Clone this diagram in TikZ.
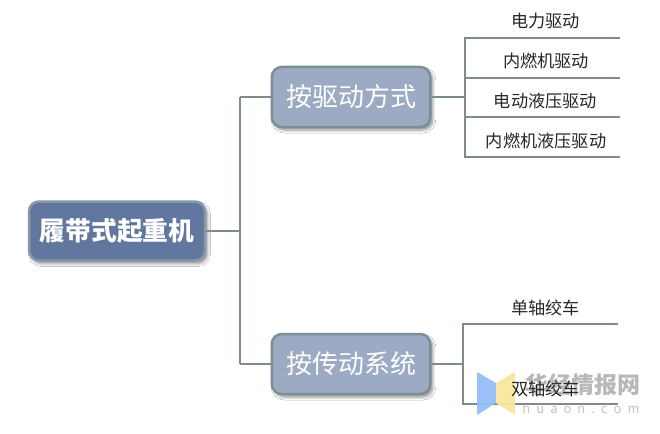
\documentclass[tikz,border=0pt]{standalone}
\usepackage{fontspec}
\setmainfont{Noto Sans CJK SC}
\newfontfamily\cjk{Noto Sans CJK SC}
\usetikzlibrary{shadows.blur}
\definecolor{rootfill}{HTML}{62779F}
\definecolor{rootedge}{HTML}{8797A8}
\definecolor{midfill}{HTML}{9DAAC4}
\definecolor{midedge}{HTML}{7D8F96}
\definecolor{linkc}{HTML}{7F8C8A}
\definecolor{wmblue}{HTML}{94BDF7}
\definecolor{wmyellow}{HTML}{F8E79E}
\definecolor{wmtext}{HTML}{9A9A9A}
\tikzset{
  x=1pt,y=-1pt,
  boxbase/.style={rounded corners=10pt,line width=2.5pt,align=center,inner sep=0pt,
    blur shadow={shadow xshift=2.5pt,shadow yshift=-3pt,shadow blur steps=6,shadow blur radius=3pt,shadow opacity=45}},
  rootbox/.style={boxbase,fill=rootfill,draw=rootedge,minimum width=176pt,minimum height=59pt,
    text=white,font=\cjk\fontsize{25.7}{28}\selectfont\bfseries},
  midbox/.style={boxbase,fill=midfill,draw=midedge,minimum width=158.5pt,minimum height=60pt,
    text=white,font=\cjk\fontsize{26}{28}\selectfont},
  leaftext/.style={font=\cjk\fontsize{17.2}{20}\selectfont,text=black!85,inner sep=0pt},
  linkshade/.style={draw=black!12,line width=2.5pt},
  link/.style={draw=linkc,line width=2.3pt,line cap=butt,line join=miter},
}
\begin{document}
\begin{tikzpicture}
\useasboundingbox[fill=white] (0,0) rectangle (660,433);
% junctions and free ends
\coordinate (jroot) at (240,231);
\coordinate (jtop) at (240,97);
\coordinate (jbot) at (240,364);
\coordinate (ja) at (465,97);
\coordinate (ja1) at (465,38);  \coordinate (ea1) at (620,38);
\coordinate (ja2) at (465,78);  \coordinate (ea2) at (620,78);
\coordinate (ja3) at (465,117); \coordinate (ea3) at (620,117);
\coordinate (ja4) at (465,157); \coordinate (ea4) at (620,157);
\coordinate (jb) at (463,364);
\coordinate (jb1) at (463,324); \coordinate (eb1) at (618,324);
\coordinate (jb2) at (463,404); \coordinate (eb2) at (618,404);
% soft line shadows
\begin{scope}[xshift=2pt,yshift=-3pt]
\draw[linkshade] (ja1) -- (ea1) (ja2) -- (ea2) (ja3) -- (ea3) (ja4) -- (ea4);
\draw[linkshade] (jb1) -- (eb1) (jb2) -- (eb2);
\draw[linkshade] (ja1) -- (ja4) (jb1) -- (jb2) (jtop) -- (jbot);
\end{scope}
% boxes
\node[rootbox] (root) at (117,231) {履带式起重机};
\node[midbox] (drive) at (351,97) {按驱动方式};
\node[midbox] (trans) at (351,364) {按传动系统};
% connectors
\draw[link] (root.east) -- (jroot);
\draw[link] (jbot) -- (jroot) -- (jtop);
\draw[link] (jtop) -- (drive.west);
\draw[link] (jbot) -- (trans.west);
\draw[link] (drive.east) -- (ja);
\draw[link] (ea1) -- (ja1) -- (ja4) -- (ea4);
\draw[link] (ja2) -- (ea2);
\draw[link] (ja3) -- (ea3);
\draw[link] (trans.east) -- (jb);
\draw[link] (eb1) -- (jb1) -- (jb2) -- (eb2);
% watermark
\fill[wmblue,opacity=.95] (477,372) -- (496,383) -- (496,403) -- (477,415) -- cycle;
\fill[wmyellow,opacity=.95] (515,372) -- (496,383) -- (496,403) -- (515,415) -- cycle;
\node[font=\cjk\fontsize{23}{26}\selectfont\bfseries,text=wmtext,opacity=.7,inner sep=0pt] (wm1) at (583,385) {华经情报网};
\node[font=\cjk\fontsize{13}{14}\selectfont,text=wmtext,opacity=.6,inner sep=0pt] (wm2) at (581,408) {h\hspace{6pt}u\hspace{6pt}a\hspace{6pt}o\hspace{6pt}n\hspace{6pt}.\hspace{6pt}c\hspace{6pt}o\hspace{6pt}m};
% leaf labels
\node[leaftext] (a1) at (545.5,21) {电力驱动};
\node[leaftext] (a2) at (546,61) {内燃机驱动};
\node[leaftext] (a3) at (545.5,101) {电动液压驱动};
\node[leaftext] (a4) at (546,141) {内燃机液压驱动};
\node[leaftext] (b1) at (545.5,308) {单轴绞车};
\node[leaftext] (b2) at (545.5,389) {双轴绞车};
\end{tikzpicture}
\end{document}
